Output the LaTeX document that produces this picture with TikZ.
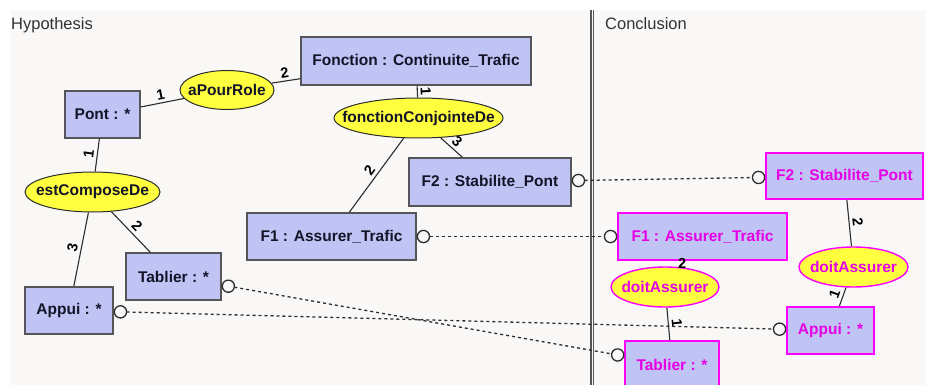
\documentclass[tikz,border=0pt]{standalone}
\usepackage{fontspec}
\setmainfont{Liberation Sans}
\usetikzlibrary{arrows.meta, shapes.geometric}
\definecolor{paper}{RGB}{249,248,247}
\definecolor{boxfill}{RGB}{192,196,245}
\definecolor{boxline}{RGB}{85,85,90}
\definecolor{boxtext}{RGB}{20,20,40}
\definecolor{relfill}{RGB}{255,255,64}
\definecolor{newcol}{RGB}{255,0,255}
\definecolor{newtext}{RGB}{230,0,230}
\definecolor{linkcol}{RGB}{45,45,45}
\definecolor{titlecol}{RGB}{50,50,50}
\tikzset{
    objbox/.style={
        draw=boxline, fill=boxfill, rectangle, line width=1.4pt, inner sep=0pt,
        minimum height=47pt, text=boxtext, font=\bfseries\fontsize{15.5}{18}\selectfont
    },
    objnew/.style={objbox, draw=newcol, text=newtext},
    relnode/.style={
        ellipse, draw=linkcol, fill=relfill, line width=1pt, inner sep=0pt, minimum height=40pt,
        label={[text=boxtext, font=\bfseries\fontsize{15.5}{18}\selectfont]center:#1}
    },
    relnew/.style={
        ellipse, draw=newcol, fill=relfill, line width=1.4pt, inner sep=0pt, minimum height=40pt,
        label={[text=newtext, font=\bfseries\fontsize{15.5}{18}\selectfont]center:#1}
    },
    link/.style={draw=linkcol, line width=1.1pt},
    card/.style={sloped, above, inner sep=3pt, text=black, font=\bfseries\fontsize{14.5}{14}\selectfont},
    cardflat/.style={inner sep=0pt, text=black, font=\bfseries\fontsize{14.5}{14}\selectfont},
    mapping/.style={
        draw=linkcol, line width=1.3pt, dash pattern=on 3pt off 3pt,
        {Circle[open, length=13.5pt, line width=1.3pt]}-{Circle[open, length=13.5pt, line width=1.3pt]}
    },
    title/.style={inner sep=0pt, anchor=base west, text=titlecol, font=\fontsize{16.5}{18}\selectfont}
}

\begin{document}
\begin{tikzpicture}[x=1pt, y=-1pt]
    \useasboundingbox (0,0) rectangle (926,385);
    \fill[paper] (11,10) rectangle (926,385);
    \draw[boxline, line width=1.5pt] (590.8,10) -- (590.8,385);
    \draw[boxline, line width=1.5pt] (593.6,10) -- (593.6,385);

    \node[title] (hyp) at (11,30) {Hypothesis};
    \node[title] (concl) at (605,30) {Conclusion};

    % hypothesis
    \node[objbox, minimum width=75pt] (pont) at (102.5,114.5) {Pont : *};
    \node[relnode=aPourRole, minimum width=94pt, minimum height=39pt] (apr) at (227,90) {};
    \node[objbox, minimum width=230pt, minimum height=48pt] (fct) at (416,61) {Fonction : Continuite\_Trafic};
    \node[relnode=fonctionConjointeDe, minimum width=169pt] (fcd) at (418.5,118) {};
    \node[objbox, minimum width=162pt, minimum height=48pt] (f2) at (490,182) {F2 : Stabilite\_Pont};
    \node[objbox, minimum width=169pt] (f1) at (331.5,236.5) {F1 : Assurer\_Trafic};
    \node[relnode=estComposeDe, minimum width=135pt] (ecd) at (92.5,192) {};
    \node[objbox, minimum width=95pt] (tab) at (173.5,276.5) {Tablier : *};
    \node[objbox, minimum width=88pt] (app) at (69,310.5) {Appui : *};

    % conclusion
    \node[objnew, minimum width=157pt, minimum height=46pt] (f2c) at (844.5,176) {F2 : Stabilite\_Pont};
    \node[objnew, minimum width=169pt] (f1c) at (702.5,236.5) {F1 : Assurer\_Trafic};
    \node[relnew=doitAssurer, minimum width=108pt] (da1) at (665,287) {};
    \node[relnew=doitAssurer, minimum width=109pt] (da2) at (853.5,267) {};
    \node[objnew, minimum width=87pt] (appc) at (830.5,330.5) {Appui : *};
    \node[objnew, minimum width=94pt] (tabc) at (672,364.5) {Tablier : *};

    \draw[link] (pont) -- node[card] {1} (apr);
    \draw[link] (apr) -- node[card] {2} (fct);
    \draw[link] (fct) -- node[card] {1} (fcd);
    \draw[link] (fcd) -- node[card] {2} (f1);
    \draw[link] (fcd) -- node[card] {3} (f2);
    \draw[link] (pont) -- node[card] {1} (ecd);
    \draw[link] (ecd) -- node[card] {3} (app);
    \draw[link] (ecd) -- node[card] {2} (tab);
    \draw[link] (f2c) -- node[card] {2} (da2);
    \draw[link] (da2) -- node[card] {1} (appc);
    \draw[link] (f1c) -- node[cardflat] {2} (da1);
    \draw[link] (da1) -- node[card] {1} (tabc);

    % morphism
    \draw[mapping] (f2) -- (f2c);
    \draw[mapping] (f1) -- (f1c);
    \draw[mapping] (tab) -- (tabc);
    \draw[mapping] (app) -- (appc);
\end{tikzpicture}
\end{document}
